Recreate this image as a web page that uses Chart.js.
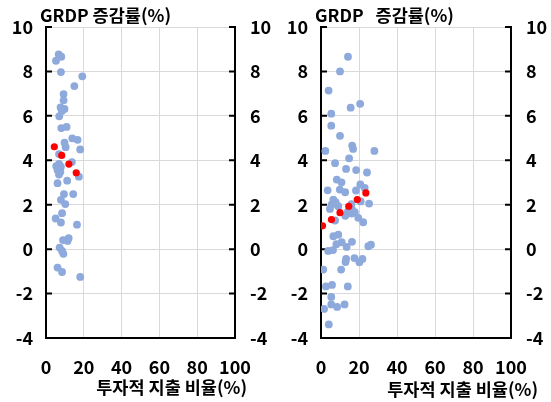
<!DOCTYPE html>
<html><head><meta charset="utf-8">
<script src="https://cdn.jsdelivr.net/npm/chart.js@4/dist/chart.umd.min.js"></script>
<style>
html,body{margin:0;padding:0;background:#fff;}
#wrap{position:relative;width:551px;height:402px;overflow:hidden;}
canvas{position:absolute;top:0;}
#c1{left:0;}
#c2{left:275px;}
</style></head><body>
<div id="wrap">
<canvas id="c1" width="275" height="402"></canvas>
<canvas id="c2" width="276" height="402"></canvas>
</div>
<script>
// Axis labels and ticks
const yAxisTitleLeft = 'GRDP 증감률(%)';
const yAxisTitleRight = 'GRDP   증감률(%)';
const xAxisTitle = '투자적 지출 비율(%)';
const xTicks = [0, 20, 40, 60, 80, 100];
const yTicks = [-4, -2, 0, 2, 4, 6, 8, 10];

// Left panel: individual observations (x = 투자적 지출 비율, y = GRDP 증감률)
const leftObsX = [6.7, 8.1, 5.3, 7.9, 19.2, 15.0, 9.3, 9.3, 7.7, 9.8, 8.4, 7.0, 8.1, 10.9, 13.9, 16.7, 18.1, 9.8, 10.4, 6.9,
  13.7, 17.4, 5.4, 6.9, 7.9, 6.1, 7.6, 6.9, 6.1, 11.2, 9.5, 14.4, 7.9, 10.2, 8.5, 5.1, 7.9, 16.4, 9.0, 12.0,
  11.4, 7.2, 8.5, 9.2, 6.1, 8.5, 18.1];
const leftObsY = [8.77, 8.66, 8.48, 7.97, 7.78, 7.34, 6.98, 6.70, 6.38, 6.31, 6.22, 5.98, 5.45, 5.50, 4.99, 4.92, 4.49, 4.79, 4.59, 4.28,
  3.92, 3.26, 3.74, 3.84, 3.71, 3.56, 3.48, 3.36, 2.97, 3.08, 2.48, 2.48, 2.22, 2.03, 1.62, 1.38, 1.20, 1.10, 0.41, 0.50,
  0.37, 0.07, -0.08, -0.21, -0.83, -1.03, -1.25];
// Left panel: fitted values
const leftFitX = [4.4, 8.3, 12.1, 16.0];
const leftFitY = [4.61, 4.22, 3.83, 3.44];

// Right panel: individual observations
const rightObsX = [14.2, 10.0, 4.0, 20.6, 15.6, 5.4, 5.4, 10.0, 16.4, 16.9, 2.3, 28.1, 14.8, 7.4, 13.2, 18.5, 24.2, 8.3, 10.8, 20.7,
  23.0, 3.5, 9.9, 12.7, 18.4, 20.9, 25.3, 6.5, 7.7, 5.6, 9.1, 4.7, 16.4, 14.2, 17.8, 16.1, 12.8, 19.6, 7.4, 22.2,
  6.5, 9.1, 8.1, 10.9, 13.5, 16.3, 24.9, 26.3, 3.8, 6.3, 1.2, 10.6, 13.2, 12.9, 17.6, 20.2, 21.8, 2.6, 5.8, 14.1,
  5.4, 1.6, 5.4, 8.5, 12.4, 4.1, 16.0];
const rightObsY = [8.66, 8.00, 7.14, 6.54, 6.37, 6.10, 5.56, 5.10, 4.66, 4.51, 4.42, 4.42, 4.09, 3.87, 3.61, 3.56, 3.45, 3.13, 3.01, 2.91,
  2.76, 2.65, 2.68, 2.56, 2.64, 2.15, 2.05, 2.23, 2.11, 2.00, 1.93, 1.81, 1.78, 1.70, 1.66, 1.60, 1.50, 1.41, 1.29, 1.21,
  0.58, 0.65, 0.22, 0.31, 0.10, 0.33, 0.13, 0.20, -0.08, -0.04, -0.92, -0.92, -0.44, -0.58, -0.40, -0.59, -0.44, -1.68, -1.61, -1.68,
  -2.15, -2.69, -2.49, -2.60, -2.49, -3.39, 2.02];
// Right panel: fitted values
const rightFitX = [0.8, 5.5, 10.0, 14.6, 19.1, 23.6];
const rightFitY = [1.05, 1.33, 1.64, 1.93, 2.23, 2.53];

const FONT = "'Noto Sans CJK KR', 'Noto Sans', sans-serif";
Chart.defaults.font.family = FONT;
Chart.defaults.font.size = 18;
Chart.defaults.font.weight = 'bold';
Chart.defaults.color = '#000';

const toPoints = (xs, ys) => xs.map((x, i) => ({x, y: ys[i]}));

// Inward tick marks on both value axes, plus the two axis titles
const framePlugin = {
  id: 'frame',
  beforeDatasetsDraw(chart) {
    const {ctx, chartArea: a, scales} = chart;
    const y = scales.y;
    ctx.save();
    ctx.strokeStyle = '#000';
    ctx.lineWidth = 2;
    y.ticks.forEach(t => {
      const py = y.getPixelForValue(t.value);
      ctx.beginPath();
      ctx.moveTo(a.left, py); ctx.lineTo(a.left + 6, py);
      ctx.moveTo(a.right, py); ctx.lineTo(a.right - 6, py);
      ctx.stroke();
    });
    ctx.restore();
  },
  afterDraw(chart, args, opts) {
    const {ctx, chartArea: a} = chart;
    ctx.save();
    ctx.fillStyle = '#000';
    ctx.font = 'bold 17.5px ' + FONT;
    ctx.textBaseline = 'middle';
    ctx.textAlign = 'left';
    ctx.fillText(opts.yTitle, a.left - 6, 15.5);
    ctx.textAlign = 'right';
    ctx.fillText(opts.xTitle, a.right + opts.xTitleShift, opts.xTitleY);
    ctx.restore();
  }
};

function makePanel(id, obsX, obsY, fitX, fitY, yTitle, xTitleShift, xTitleY) {
  return new Chart(document.getElementById(id), {
    type: 'scatter',
    data: {
      datasets: [
        {
          data: toPoints(fitX, fitY),
          backgroundColor: '#FF0000',
          borderWidth: 0,
          pointRadius: 3.6,
          order: 0
        },
        {
          data: toPoints(obsX, obsY),
          backgroundColor: '#8EA9DB',
          borderWidth: 0,
          pointRadius: 3.9,
          order: 1
        }
      ]
    },
    options: {
      responsive: false,
      animation: false,
      events: [],
      layout: {padding: {top: 27, left: 0, right: 0, bottom: 0}},
      plugins: {
        legend: {display: false},
        tooltip: {enabled: false},
        frame: {yTitle, xTitle: xAxisTitle, xTitleShift, xTitleY}
      },
      scales: {
        x: {
          type: 'linear',
          min: xTicks[0], max: xTicks[xTicks.length - 1],
          afterBuildTicks: s => { s.ticks = xTicks.map(v => ({value: v})); },
          afterFit: s => { s.height = 64; },
          ticks: {padding: 18, maxRotation: 0, autoSkip: false},
          grid: {color: '#d9d9d9', lineWidth: 1, drawTicks: false},
          border: {color: '#000', width: 2}
        },
        y: {
          type: 'linear', position: 'left',
          min: yTicks[0], max: yTicks[yTicks.length - 1],
          afterBuildTicks: s => { s.ticks = yTicks.map(v => ({value: v})); },
          afterFit: s => { s.width = 46; },
          ticks: {padding: 13, autoSkip: false},
          grid: {color: '#d9d9d9', lineWidth: 1, drawTicks: false},
          border: {color: '#000', width: 2}
        },
        y2: {
          type: 'linear', position: 'right',
          min: yTicks[0], max: yTicks[yTicks.length - 1],
          afterBuildTicks: s => { s.ticks = yTicks.map(v => ({value: v})); },
          afterFit: s => { s.width = 40; },
          ticks: {padding: 15, autoSkip: false},
          grid: {display: false, drawTicks: false},
          border: {color: '#000', width: 2}
        }
      }
    },
    plugins: [framePlugin]
  });
}

makePanel('c1', leftObsX, leftObsY, leftFitX, leftFitY, yAxisTitleLeft, 12, 387);
makePanel('c2', rightObsX, rightObsY, rightFitX, rightFitY, yAxisTitleRight, 27, 389);
</script>
</body></html>
